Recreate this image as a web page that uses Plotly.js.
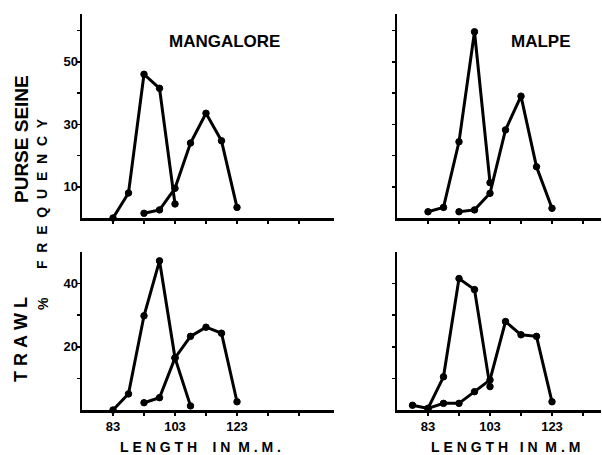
<!DOCTYPE html>
<html>
<head>
<meta charset="utf-8">
<script src="https://cdn.plot.ly/plotly-3.0.1.min.js"></script>
<style>html,body{margin:0;padding:0;background:#fff}#chart{width:602px;height:455px}</style>
</head>
<body>
<div id="chart"></div>
<script>
// Length classes (mm) and % frequency values
var mangPS_s1_x = [83, 88, 93, 98, 103];
var mangPS_s1_y = [0, 8, 46, 41.5, 4.5];
var mangPS_s2_x = [93, 98, 103, 108, 113, 118, 123];
var mangPS_s2_y = [1.5, 2.6, 9.5, 24, 33.5, 24.7, 3.4];

var malpPS_s1_x = [83, 88, 93, 98, 103];
var malpPS_s1_y = [2, 3.4, 24.4, 59.6, 11.3];
var malpPS_s2_x = [93, 98, 103, 108, 113, 118, 123];
var malpPS_s2_y = [2, 2.6, 7.9, 28.2, 39, 16.4, 3.1];

var mangTR_s1_x = [83, 88, 93, 98, 103, 108];
var mangTR_s1_y = [0, 5.1, 29.8, 47.2, 16.5, 1.3];
var mangTR_s2_x = [93, 98, 103, 108, 113, 118, 123];
var mangTR_s2_y = [2.3, 3.9, 16.5, 23.3, 26.2, 24.3, 2.6];

var malpTR_s1_x = [78, 83, 88, 93, 98, 103];
var malpTR_s1_y = [1.5, 0.5, 10.5, 41.6, 38.1, 7.4];
var malpTR_s2_x = [83, 88, 93, 98, 103, 108, 113, 118, 123];
var malpTR_s2_y = [0.5, 2.1, 2.1, 5.8, 9.5, 28, 23.8, 23.3, 2.6];

var xTickVals = [83, 93, 103, 113, 123, 133, 143];
var xTickText = ['83', '', '103', '', '123', '', ''];
var yTopTickVals = [10, 20, 30, 40, 50, 60];
var yTopTickText = ['10', '', '30', '', '50', ''];
var yBotTickVals = [10, 20, 30, 40];
var yBotTickText = ['', '20', '', '40'];

var W = 602, H = 455;
function px(x){return x / W;}
function py(y){return 1 - y / H;}

var FONT = 'Liberation Sans, Arial, sans-serif';
var lineStyle = {color: '#000', width: 3};
var markerStyle = {color: '#000', size: 6.5, line: {color: '#000', width: 1}};

function tr(x, y, xa, ya){
  return {x: x, y: y, xaxis: xa, yaxis: ya, type: 'scatter', mode: 'lines+markers',
    line: lineStyle, marker: markerStyle, cliponaxis: false, showlegend: false, hoverinfo: 'skip'};
}

var data = [
  tr(mangPS_s1_x, mangPS_s1_y, 'x', 'y'),
  tr(mangPS_s2_x, mangPS_s2_y, 'x', 'y'),
  tr(malpPS_s1_x, malpPS_s1_y, 'x2', 'y2'),
  tr(malpPS_s2_x, malpPS_s2_y, 'x2', 'y2'),
  tr(mangTR_s1_x, mangTR_s1_y, 'x3', 'y3'),
  tr(mangTR_s2_x, mangTR_s2_y, 'x3', 'y3'),
  tr(malpTR_s1_x, malpTR_s1_y, 'x4', 'y4'),
  tr(malpTR_s2_x, malpTR_s2_y, 'x4', 'y4')
];

function xax(dom, range, anchor, labels){
  return {domain: dom, range: range, anchor: anchor, showline: true, linecolor: '#000', linewidth: 2.5,
    showgrid: false, zeroline: false, ticks: 'outside', ticklen: 3, tickwidth: 1.5, tickcolor: '#000',
    tickvals: xTickVals, ticktext: labels ? xTickText : xTickVals.map(function(){return '';}),
    tickfont: {family: FONT, size: 13, color: '#000', weight: 'bold'}, fixedrange: true};
}
function yax(dom, range, anchor, vals, text, labels){
  return {domain: dom, range: range, anchor: anchor, showline: true, linecolor: '#000', linewidth: 2.5,
    showgrid: false, zeroline: false, ticks: 'outside', ticklen: 3, tickwidth: 1.5, tickcolor: '#000',
    tickvals: vals, ticktext: labels ? text : vals.map(function(){return '';}),
    ticklabelstandoff: -4,
    tickfont: {family: FONT, size: 13, color: '#000', weight: 'bold'}, fixedrange: true};
}

var leftDom = [px(82), px(334)];
var rightDom = [px(397), px(601)];
var leftRange = [73, 73 + 252 / 3.1];
var rightRange = [73, 73 + 204 / 3.1];
var topDom = [py(218), py(14)];
var botDom = [py(410), py(252)];
var topRange = [0, 204 / 3.125];
var botRange = [0, 158 / 3.16];

function ann(text, x, y, size, angle){
  return {text: text, x: px(x), y: py(y), xref: 'paper', yref: 'paper', showarrow: false,
    textangle: angle || 0, xanchor: 'center', yanchor: 'middle',
    font: {family: FONT, size: size, color: '#000', weight: 'bold'}};
}
var nb = '\u00a0';
function spaced(s, n){ return s.split('').join(nb.repeat(n)); }

var layout = {
  width: W, height: H, margin: {l: 0, r: 0, t: 0, b: 0},
  paper_bgcolor: '#fff', plot_bgcolor: 'rgba(0,0,0,0)', showlegend: false,
  xaxis: xax(leftDom, leftRange, 'y', false),
  yaxis: yax(topDom, topRange, 'x', yTopTickVals, yTopTickText, true),
  xaxis2: xax(rightDom, rightRange, 'y2', false),
  yaxis2: yax(topDom, topRange, 'x2', yTopTickVals, yTopTickText, false),
  xaxis3: xax(leftDom, leftRange, 'y3', true),
  yaxis3: yax(botDom, botRange, 'x3', yBotTickVals, yBotTickText, true),
  xaxis4: xax(rightDom, rightRange, 'y4', true),
  yaxis4: yax(botDom, botRange, 'x4', yBotTickVals, yBotTickText, false),
  annotations: [
    ann('MANGALORE', 224, 41, 17),
    ann('MALPE', 541, 41, 17),
    ann('PURSE SEINE', 21, 139, 19, -90),
    ann(spaced('FREQUENCY', 2), 42, 194, 14, -90),
    ann('%', 43, 304, 14, -90),
    ann(spaced('TRAWL', 1), 21, 340, 18, -90),
    ann(spaced('LENGTH', 1) + nb.repeat(4) + spaced('IN', 1) + nb + nb + spaced('M.M.', 1), 200, 447, 14),
    ann(spaced('LENGTH', 1) + nb.repeat(3) + spaced('IN', 1) + nb + nb + spaced('M.M', 1), 505, 447, 14)
  ]
};

Plotly.newPlot('chart', data, layout, {staticPlot: true, displayModeBar: false});
</script>
</body>
</html>
